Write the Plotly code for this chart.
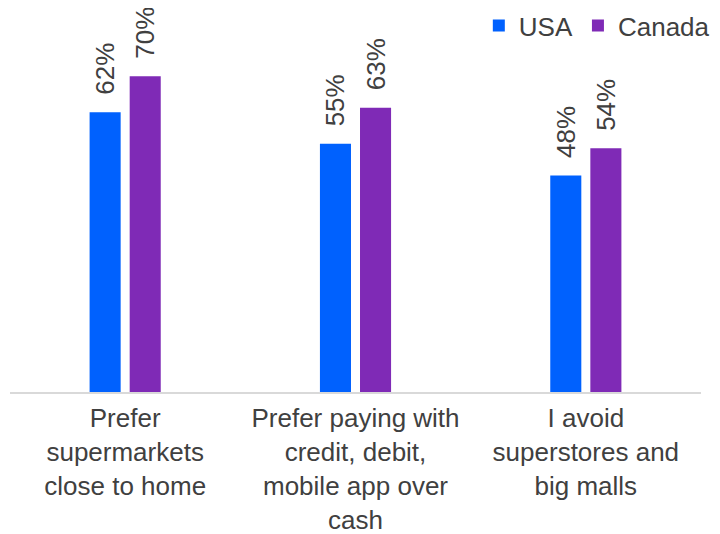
import plotly.graph_objects as go

categories = [
    "Prefer<br>supermarkets<br>close to home",
    "Prefer paying with<br>credit, debit,<br>mobile app over<br>cash",
    "I avoid<br>superstores and<br>big malls",
]
usa = [62, 55, 48]
canada = [70, 63, 54]

COLORS = {
    'usa': '#0061FE',
    'canada': '#7F2AB6',
    'text': '#404040',
    'axis': '#D9D9D9',
}
FONT = "Arial, 'Liberation Sans', sans-serif"

fig = go.Figure()

for name, values, color in [('USA', usa, COLORS['usa']), ('Canada', canada, COLORS['canada'])]:
    fig.add_trace(go.Bar(
        name=name,
        x=categories,
        y=values,
        marker=dict(color=color, line=dict(width=0)),
        text=[f'\u00a0\u00a0{v}%' for v in values],
        textposition='outside',
        textangle=-90,
        textfont=dict(size=26, color=COLORS['text'], family=FONT),
        constraintext='none',
        cliponaxis=False,
        hoverinfo='skip',
    ))

# the page body adds an 8px offset, margins account for it
fig.update_layout(
    width=720,
    height=534,
    barmode='group',
    bargap=0.652,
    bargroupgap=0.225,
    plot_bgcolor='white',
    paper_bgcolor='white',
    margin=dict(l=2, r=27, t=23, b=150, autoexpand=False),
    font=dict(family=FONT, color=COLORS['text']),
    showlegend=True,
    legend=dict(
        orientation='h',
        x=1.02,
        xanchor='right',
        y=1.08,
        yanchor='top',
        font=dict(size=26, color=COLORS['text'], family=FONT),
        bgcolor='rgba(0,0,0,0)',
        itemwidth=30,
        tracegroupgap=0,
    ),
    xaxis=dict(
        showline=True,
        linecolor=COLORS['axis'],
        linewidth=2,
        showgrid=False,
        ticks='',
        ticklabelstandoff=2,
        tickfont=dict(size=26, color=COLORS['text'], family=FONT),
        fixedrange=True,
    ),
    yaxis=dict(
        range=[0, 80],
        visible=False,
        showgrid=False,
        fixedrange=True,
    ),
)

fig.write_html("out.html")
